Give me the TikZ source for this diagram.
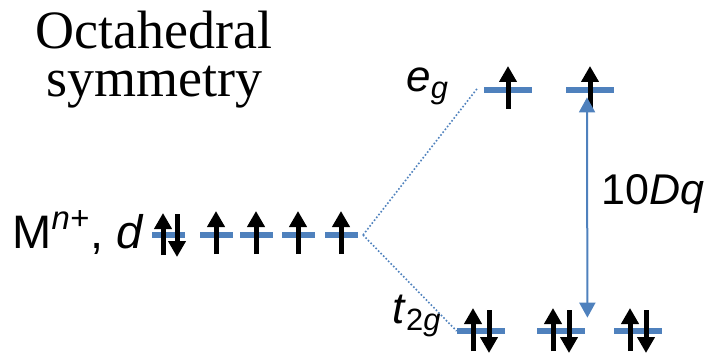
\documentclass[tikz,border=0pt]{standalone}
\usepackage{fontspec}
\setmainfont{Liberation Sans}
\newfontfamily\timesfont{Liberation Serif}
\usetikzlibrary{arrows.meta, calc}
\definecolor{lvl}{HTML}{4F81BD}
\definecolor{ink}{HTML}{000000}
\tikzset{
  level/.style={fill=lvl, inner sep=0pt, minimum height=3pt, minimum width=16.5pt},
  wide/.style={minimum width=24pt},
  spin/.style={-{Triangle[length=8pt, width=8.5pt]}, line width=2.5pt, draw=ink},
  corr/.style={densely dotted, line width=0.8pt, draw=lvl},
  gap/.style={{Triangle[length=7.5pt, width=8pt]}-{Triangle[length=7.5pt, width=8pt]},
              line width=1pt, draw=lvl},
  lab/.style={inner sep=0pt, text=ink, font=\fontsize{22}{26}\selectfont},
}

\begin{document}
\begin{tikzpicture}[x=0.5pt, y=-0.5pt]
  \useasboundingbox (0,0) rectangle (705,363);

  % free ion, five degenerate d levels
  \node[level] (d1) at (168,235) {};
  \node[level] (d2) at (216,235) {};
  \node[level] (d3) at (256,235) {};
  \node[level] (d4) at (298,235) {};
  \node[level] (d5) at (341,235) {};

  % split levels
  \node[level, wide] (eg1) at (508,90) {};
  \node[level, wide] (eg2) at (590,90) {};
  \node[level, wide] (t1) at (481,331) {};
  \node[level, wide] (t2) at (561,331) {};
  \node[level, wide] (t3) at (638,331) {};

  % electrons
  \draw[spin] ($(d1)+(-5,20)$) -- ($(d1)+(-5,-22)$);
  \draw[spin] ($(d1)+(9,-21)$) -- ($(d1)+(9,22)$);
  \foreach \n in {d2,d3,d4,d5,eg1,eg2}
    \draw[spin] ($(\n)+(0,19)$) -- ($(\n)+(0,-24)$);
  \foreach \n in {t1,t2,t3} {
    \draw[spin] ($(\n)+(-8,20)$) -- ($(\n)+(-8,-23)$);
    \draw[spin] ($(\n)+(8,-21)$) -- ($(\n)+(8,22)$);
  }

  % correlation lines
  \coordinate (split) at (363,235);
  \draw[corr] (split) -- ($(eg1.west)+(-6,-2)$);
  \draw[corr] (split) -- (t1.west);

  % splitting energy
  \draw[gap] ($(eg2.south)+(-3,4)$) -- ($(t2.north east)+(2,-10)$);

  % labels
  \node[inner sep=0pt, anchor=north, align=center,
        font=\timesfont\fontsize{27}{24}\selectfont] (title) at (154,11)
    {Octahedral\\symmetry};
  \node[lab, anchor=base east, font=\fontsize{23.5}{28}\selectfont] (ion) at (144,248)
    {M\textsuperscript{\itshape n+}, \textit{d}};
  \node[lab, anchor=base west] (eglab) at (406,92)
    {\textit{e}\textsubscript{\itshape g}};
  \node[lab, anchor=base west] (tlab) at (392,323)
    {\textit{t}\textsubscript{2\itshape g}};
  \node[lab, anchor=base west, font=\fontsize{21.5}{26}\selectfont] (dq) at (601,205)
    {10\textit{Dq}};
\end{tikzpicture}
\end{document}
